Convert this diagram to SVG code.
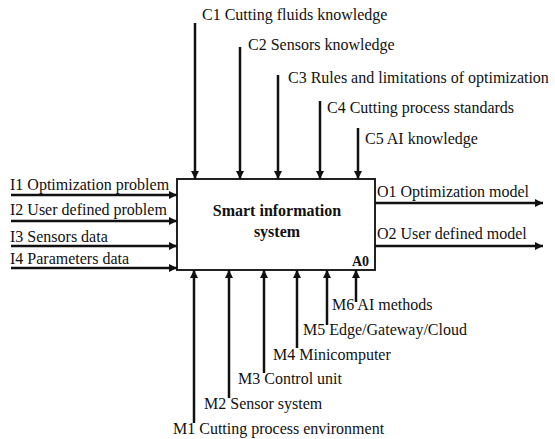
<svg xmlns="http://www.w3.org/2000/svg" width="555" height="439" viewBox="0 0 555 439">
<style>
text{font-family:"Liberation Serif","Times New Roman",serif;font-size:16px;fill:#111}
.b{font-weight:bold}
.ln{stroke:#111;stroke-width:2.5;fill:none}
.box{fill:#fff;stroke:#222;stroke-width:2}
</style>
<defs>
<marker id="ah" viewBox="0 0 10 10" refX="10" refY="5" markerWidth="3.2" markerHeight="3.2" orient="auto" markerUnits="strokeWidth">
<path d="M0,0 L10,5 L0,10 z" fill="#111"/>
</marker>
</defs>
<rect width="555" height="439" fill="#fff"/>
<g id="A0">
<rect class="box" x="177" y="179" width="198" height="91"/>
<text class="b" x="277" y="216" text-anchor="middle">Smart information</text>
<text class="b" x="277" y="237" text-anchor="middle">system</text>
<text class="b" x="369" y="266" text-anchor="end" style="font-size:14px">A0</text>
</g>
<g id="connectors">
<line class="ln" x1="195" y1="23" x2="195" y2="179" marker-end="url(#ah)"/>
<line class="ln" x1="240" y1="47" x2="240" y2="179" marker-end="url(#ah)"/>
<line class="ln" x1="278" y1="75" x2="278" y2="179" marker-end="url(#ah)"/>
<line class="ln" x1="320" y1="101" x2="320" y2="179" marker-end="url(#ah)"/>
<line class="ln" x1="358" y1="128" x2="358" y2="179" marker-end="url(#ah)"/>
<line class="ln" x1="11" y1="195" x2="177" y2="195" marker-end="url(#ah)"/>
<line class="ln" x1="11" y1="221" x2="177" y2="221" marker-end="url(#ah)"/>
<line class="ln" x1="11" y1="246" x2="177" y2="246" marker-end="url(#ah)"/>
<line class="ln" x1="11" y1="268" x2="177" y2="268" marker-end="url(#ah)"/>
<line class="ln" x1="375" y1="203" x2="543" y2="203" marker-end="url(#ah)"/>
<line class="ln" x1="375" y1="246" x2="543" y2="246" marker-end="url(#ah)"/>
<line class="ln" x1="194" y1="423" x2="194" y2="270" marker-end="url(#ah)"/>
<line class="ln" x1="229" y1="398" x2="229" y2="270" marker-end="url(#ah)"/>
<line class="ln" x1="264" y1="373" x2="264" y2="270" marker-end="url(#ah)"/>
<line class="ln" x1="297" y1="348" x2="297" y2="270" marker-end="url(#ah)"/>
<line class="ln" x1="327" y1="325" x2="327" y2="270" marker-end="url(#ah)"/>
<line class="ln" x1="356" y1="302" x2="356" y2="270" marker-end="url(#ah)"/>
</g>
<g id="labels">
<text x="202" y="20">C1 Cutting fluids knowledge</text>
<text x="248" y="50">C2 Sensors knowledge</text>
<text x="288" y="83">C3 Rules and limitations of optimization</text>
<text x="327" y="113">C4 Cutting process standards</text>
<text x="365" y="144">C5 AI knowledge</text>
<text x="10" y="190">I1 Optimization problem</text>
<text x="10" y="215">I2 User defined problem</text>
<text x="10" y="242">I3 Sensors data</text>
<text x="10" y="264">I4 Parameters data</text>
<text x="377" y="197">O1 Optimization model</text>
<text x="377" y="239">O2 User defined model</text>
<text x="332" y="310">M6 AI methods</text>
<text x="303" y="335">M5 Edge/Gateway/Cloud</text>
<text x="273" y="360">M4 Minicomputer</text>
<text x="238" y="384">M3 Control unit</text>
<text x="204" y="409">M2 Sensor system</text>
<text x="173" y="434">M1 Cutting process environment</text>
</g>
</svg>
